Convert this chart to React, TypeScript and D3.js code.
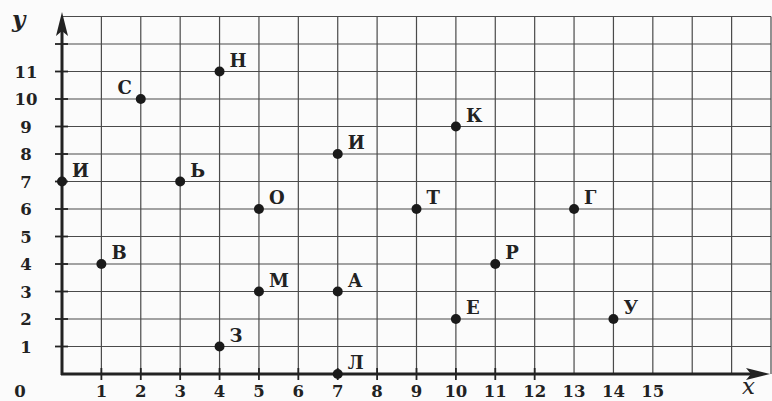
import React from 'react';
import * as d3 from 'd3';

const letters = ['И', 'С', 'Н', 'Ь', 'В', 'З', 'М', 'О', 'А', 'И', 'Л', 'Т', 'К', 'Е', 'Р', 'Г', 'У'];
const xs = [0, 2, 4, 3, 1, 4, 5, 5, 7, 7, 7, 9, 10, 10, 11, 13, 14];
const ys = [7, 10, 11, 7, 4, 1, 3, 6, 3, 8, 0, 6, 9, 2, 4, 6, 2];

const xTicks = [1, 2, 3, 4, 5, 6, 7, 8, 9, 10, 11, 12, 13, 14, 15];
const yTicks = [1, 2, 3, 4, 5, 6, 7, 8, 9, 10, 11];

const width = 772;
const height = 401;
const font = "'DejaVu Serif', 'Liberation Serif', serif";

export default function App() {
  const x = d3.scaleLinear().domain([0, 18]).range([62, 771]);
  const y = d3.scaleLinear().domain([0, 13]).range([374, 16.5]);

  const gridX = d3.range(1, 19);
  const gridY = d3.range(1, 14);

  return (
    <svg
      width={width}
      height={height}
      style={{ position: 'absolute', left: 0, top: 0, background: '#fbfbfb' }}
      fontFamily={font}
    >
      {/* grid */}
      <g stroke="#4a4a4a" strokeWidth={1.2}>
        {gridX.map((d) => (
          <line key={'gx' + d} x1={x(d)} x2={x(d)} y1={y(0)} y2={y(13)} />
        ))}
        {gridY.map((d) => (
          <line key={'gy' + d} x1={x(0)} x2={x(18)} y1={y(d)} y2={y(d)} />
        ))}
      </g>

      {/* tick marks */}
      <g stroke="#222" strokeWidth={1.8}>
        {yTicks.concat([12]).map((d) => (
          <line key={'ty' + d} x1={x(0) - 7} x2={x(0) + 6} y1={y(d)} y2={y(d)} />
        ))}
        {xTicks.filter((d) => d <= 12).map((d) => (
          <line key={'tx' + d} x1={x(d)} x2={x(d)} y1={y(0) - 6} y2={y(0) + 6} />
        ))}
      </g>

      {/* axes */}
      <g stroke="#222" strokeWidth={3}>
        <line x1={x(0)} x2={x(0)} y1={y(0) + 1} y2={y(13) + 6} />
        <line x1={x(0) - 1} x2={758} y1={y(0)} y2={y(0)} />
      </g>
      <path d={`M${x(0)},12 L${x(0) - 6},36 L${x(0)},31 L${x(0) + 6},36 Z`} fill="#222" />
      <path d={`M770,${y(0)} L746,${y(0) - 6} L751,${y(0)} L746,${y(0) + 6} Z`} fill="#222" />

      {/* axis labels */}
      <text x={12} y={27} fontSize={23} fontStyle="italic" fontWeight="bold" fill="#222">
        y
      </text>
      <text x={742} y={394} fontSize={23} fontStyle="italic" fill="#222">
        x
      </text>

      {/* tick labels */}
      <g fontSize={16.5} fontWeight="bold" fill="#222" textAnchor="middle">
        {yTicks.map((d) => (
          <text key={'ly' + d} x={26} y={y(d) + 6}>
            {d}
          </text>
        ))}
        <text x={20} y={397}>
          0
        </text>
        {xTicks.map((d) => (
          <text key={'lx' + d} x={x(d)} y={397}>
            {d}
          </text>
        ))}
      </g>

      {/* points */}
      {letters.map((l, i) => {
        const px = x(xs[i]);
        const py = y(ys[i]);
        const left = l === 'С';
        return (
          <g key={'p' + i}>
            <circle cx={px} cy={py} r={5} fill="#1a1a1a" />
            <text
              x={left ? px - 9 : px + 10}
              y={py - 5}
              fontSize={18}
              fontWeight="bold"
              fill="#222"
              textAnchor={left ? 'end' : 'start'}
            >
              {l}
            </text>
          </g>
        );
      })}
    </svg>
  );
}
